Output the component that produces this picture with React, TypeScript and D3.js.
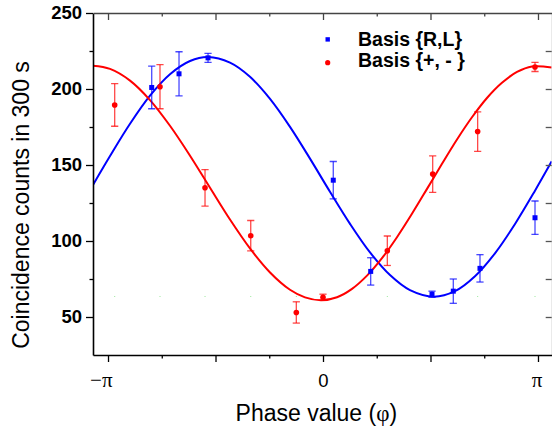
import React, { useRef, useEffect } from "react";
import * as d3 from "d3";

// measured points, basis {R,L}
const phaseRL = [-2.503, -2.104, -1.68, 0.15, 0.697, 1.593, 1.904, 2.294, 3.098];
const countsRL = [201, 210, 220.5, 140, 80, 65, 67, 82, 115.3];
const errorsRL = [14, 14.5, 3, 12.3, 9, 2, 8, 9, 11];

// measured points, basis {+,-}
const phasePM = [-3.044, -2.382, -1.724, -1.056, -0.39, 0, 0.94, 1.603, 2.26, 3.098];
const countsPM = [189.5, 201.5, 135, 103.5, 53, 63, 93.6, 144, 172, 214.5];
const errorsPM = [14, 14.5, 12, 10, 7, 2, 9.7, 12, 13, 3];

// faint background markers
const countsBg = [63.5, 63.5, 63.5, 63.5, 63.5, 63.5, 63.5, 63.5, 63.5, 63.5];

// fitted curves
const fitPhaseRL = [-3.361, -3.112, -2.82, -2.528, -2.236, -1.943, -1.68, -1.359, -1.067, -0.774, -0.482, -0.19, 0.102, 0.395, 0.687, 0.979, 1.271, 1.622, 1.929, 2.221, 2.513, 2.806, 3.098, 3.342];
const fitCountsRL = [136.9, 155.9, 177.1, 195.6, 209.7, 218.4, 221.0, 217.3, 208.0, 193.5, 175.1, 154.2, 132.4, 111.3, 92.5, 77.6, 67.7, 63.4, 67.0, 76.8, 91.9, 111.2, 133.1, 152.4];
const fitPhasePM = [-3.361, -3.112, -2.82, -2.528, -2.236, -1.943, -1.651, -1.359, -1.067, -0.774, -0.482, -0.263, -0.029, 0.205, 0.424, 0.643, 0.862, 1.081, 1.3, 1.52, 1.739, 1.958, 2.177, 2.396, 2.615, 2.835, 3.054, 3.342];
const fitCountsPM = [215.3, 213.2, 205.5, 192.7, 175.8, 156.1, 135.0, 114.1, 95.1, 79.3, 67.9, 62.9, 61.0, 63.0, 68.5, 77.2, 88.7, 102.5, 117.9, 134.3, 150.8, 166.8, 181.4, 194.1, 204.1, 211.2, 214.8, 214.2];

const yMajorTicks = [50, 100, 150, 200, 250];
const yMinorTicks = [75, 125, 175, 225];
const yAllTicks = [50, 75, 100, 125, 150, 175, 200, 225];
const xMajorTicks = [-Math.PI, -Math.PI / 2, 0, Math.PI / 2, Math.PI];
const xMinorTicks = [-3 * Math.PI / 4, -Math.PI / 4, Math.PI / 4, 3 * Math.PI / 4];
const xLabelValues = [-Math.PI, 0, Math.PI];
const xLabelTexts = ["\u2212\u03c0", "0", "\u03c0"];
const legendLabels = ["Basis {R,L}", "Basis {+, - }"];

const BLUE = "#0000ff";
const RED = "#ff0000";
const SANS = "'Liberation Sans', Arial, Helvetica, sans-serif";
const SERIF = "'Liberation Serif', 'DejaVu Serif', serif";

const App = () => {
  const svgRef = useRef<SVGSVGElement>(null);

  useEffect(() => {
    const width = 552;
    const height = 429;
    const left = 93;
    const right = 551.7;
    const top = 13;
    const bottom = 355;

    const svg = d3.select(svgRef.current).attr("width", width).attr("height", height);
    svg.selectAll("*").remove();

    const x = d3.scaleLinear().domain([-3.361, 3.342]).range([left, right]);
    const y = d3.scaleLinear().domain([25, 250]).range([bottom, top]);

    svg
      .append("defs")
      .append("clipPath")
      .attr("id", "plotClip")
      .append("rect")
      .attr("x", left)
      .attr("y", top)
      .attr("width", right - left)
      .attr("height", bottom - top);

    const plot = svg.append("g").attr("clip-path", "url(#plotClip)");

    // faint green markers
    plot
      .selectAll(".bg-dot")
      .data(phasePM)
      .join("rect")
      .attr("class", "bg-dot")
      .attr("x", (d) => x(d) - 0.5)
      .attr("y", (d, i) => y(countsBg[i]) - 0.5)
      .attr("width", 1)
      .attr("height", 1)
      .attr("fill", "#9be89b");

    const line = d3
      .line<number>()
      .curve(d3.curveCatmullRom.alpha(0.5));

    plot
      .append("path")
      .attr(
        "d",
        line.x((d) => x(d)).y((d, i) => y(fitCountsRL[i]))(fitPhaseRL)
      )
      .attr("fill", "none")
      .attr("stroke", BLUE)
      .attr("stroke-width", 2);

    plot
      .append("path")
      .attr(
        "d",
        line.x((d) => x(d)).y((d, i) => y(fitCountsPM[i]))(fitPhasePM)
      )
      .attr("fill", "none")
      .attr("stroke", RED)
      .attr("stroke-width", 2);

    const drawErrors = (
      cls: string,
      phases: number[],
      counts: number[],
      errs: number[],
      color: string
    ) => {
      const eg = plot
        .selectAll("." + cls)
        .data(phases)
        .join("g")
        .attr("class", cls)
        .attr("stroke", color)
        .attr("stroke-opacity", 0.72)
        .attr("stroke-width", 1.3);
      eg.append("line")
        .attr("x1", (d) => x(d))
        .attr("x2", (d) => x(d))
        .attr("y1", (d, i) => y(counts[i] + errs[i]))
        .attr("y2", (d, i) => y(counts[i] - errs[i]));
      eg.append("line")
        .attr("x1", (d) => x(d) - 3.6)
        .attr("x2", (d) => x(d) + 3.6)
        .attr("y1", (d, i) => y(counts[i] + errs[i]))
        .attr("y2", (d, i) => y(counts[i] + errs[i]));
      eg.append("line")
        .attr("x1", (d) => x(d) - 3.6)
        .attr("x2", (d) => x(d) + 3.6)
        .attr("y1", (d, i) => y(counts[i] - errs[i]))
        .attr("y2", (d, i) => y(counts[i] - errs[i]));
    };

    drawErrors("err-rl", phaseRL, countsRL, errorsRL, BLUE);
    drawErrors("err-pm", phasePM, countsPM, errorsPM, RED);

    plot
      .selectAll(".pt-rl")
      .data(phaseRL)
      .join("rect")
      .attr("class", "pt-rl")
      .attr("x", (d) => x(d) - 2.5)
      .attr("y", (d, i) => y(countsRL[i]) - 2.5)
      .attr("width", 5)
      .attr("height", 5)
      .attr("fill", BLUE);

    plot
      .selectAll(".pt-pm")
      .data(phasePM)
      .join("circle")
      .attr("class", "pt-pm")
      .attr("cx", (d) => x(d))
      .attr("cy", (d, i) => y(countsPM[i]))
      .attr("r", 2.8)
      .attr("fill", RED);

    // axes
    const styleAxis = (g: any, color: string, width: number) => {
      g.select(".domain").attr("stroke", color).attr("stroke-width", width);
      g.selectAll(".tick line").attr("stroke", color).attr("stroke-width", 1.3);
    };

    const leftAxis = svg
      .append("g")
      .attr("transform", `translate(${left},0)`)
      .call(d3.axisLeft(y).tickValues(yMajorTicks).tickSize(7).tickSizeOuter(0).tickPadding(4));
    styleAxis(leftAxis, "#000", 1.6);
    leftAxis
      .selectAll("text")
      .attr("font-family", SANS)
      .attr("font-weight", "bold")
      .attr("font-size", 18.5)
      .attr("fill", "#000");

    const leftMinor = svg
      .append("g")
      .attr("transform", `translate(${left},0)`)
      .call(d3.axisLeft(y).tickValues(yMinorTicks).tickSize(3.5).tickSizeOuter(0).tickFormat(() => ""));
    leftMinor.select(".domain").remove();
    styleAxis(leftMinor, "#000", 1.6);

    const rightAxis = svg
      .append("g")
      .attr("transform", `translate(${right},0)`)
      .call(d3.axisRight(y).tickValues(yAllTicks).tickSize(-6).tickSizeOuter(0).tickFormat(() => ""));
    styleAxis(rightAxis, "#555", 1);
    rightAxis.select(".domain").attr("stroke", "#bbb");

    const bottomAxis = svg
      .append("g")
      .attr("transform", `translate(0,${bottom})`)
      .call(d3.axisBottom(x).tickValues(xMajorTicks).tickSize(7).tickSizeOuter(0).tickFormat(() => ""));
    styleAxis(bottomAxis, "#000", 1.6);

    const bottomMinor = svg
      .append("g")
      .attr("transform", `translate(0,${bottom})`)
      .call(d3.axisBottom(x).tickValues(xMinorTicks).tickSize(3.5).tickSizeOuter(0).tickFormat(() => ""));
    bottomMinor.select(".domain").remove();
    styleAxis(bottomMinor, "#000", 1.6);

    const topAxis = svg
      .append("g")
      .attr("transform", `translate(0,${top})`)
      .call(d3.axisTop(x).tickValues(xMajorTicks).tickSize(-7).tickSizeOuter(0).tickFormat(() => ""));
    styleAxis(topAxis, "#444", 1.6);

    const topMinor = svg
      .append("g")
      .attr("transform", `translate(0,${top})`)
      .call(d3.axisTop(x).tickValues(xMinorTicks).tickSize(-3.5).tickSizeOuter(0).tickFormat(() => ""));
    topMinor.select(".domain").remove();
    styleAxis(topMinor, "#444", 1.6);

    // x tick labels
    svg
      .selectAll(".xlabel")
      .data(xLabelValues)
      .join("text")
      .attr("class", "xlabel")
      .attr("x", (d, i) => (i === 0 ? x(d) + 4.5 : i === 2 ? x(d) - 1 : x(d) + 0.5))
      .attr("y", 387)
      .attr("text-anchor", (d, i) => (i === 0 ? "end" : "middle"))
      .attr("font-family", (d, i) => (i === 1 ? SANS : SERIF))
      .attr("font-size", (d, i) => (i === 1 ? 18.5 : 21))
      .attr("fill", "#000")
      .text((d, i) => xLabelTexts[i]);

    // axis titles
    const xt = svg
      .append("text")
      .attr("x", (left + right) / 2 - 6)
      .attr("y", 421)
      .attr("text-anchor", "middle")
      .attr("font-family", SANS)
      .attr("font-size", 23)
      .attr("fill", "#000");
    xt.append("tspan").text("Phase value (");
    xt.append("tspan").attr("font-family", SERIF).text("\u03c6");
    xt.append("tspan").text(")");

    svg
      .append("text")
      .attr("transform", `translate(29,${(top + bottom) / 2 + 21}) rotate(-90)`)
      .attr("text-anchor", "middle")
      .attr("font-family", SANS)
      .attr("font-size", 23)
      .attr("fill", "#000")
      .text("Coincidence counts in 300 s");

    // legend
    const legend = svg.append("g");
    legend
      .append("rect")
      .attr("x", 325.5)
      .attr("y", 37.2)
      .attr("width", 4.4)
      .attr("height", 4.4)
      .attr("fill", BLUE);
    legend
      .append("circle")
      .attr("cx", 327.7)
      .attr("cy", 62.7)
      .attr("r", 2.6)
      .attr("fill", RED);
    legend
      .selectAll(".legend-text")
      .data(legendLabels)
      .join("text")
      .attr("class", "legend-text")
      .attr("x", 358)
      .attr("y", (d, i) => 46 + i * 21)
      .attr("font-family", SANS)
      .attr("font-weight", "bold")
      .attr("font-size", 19.5)
      .attr("fill", "#000")
      .text((d) => d);
  }, []);

  return (
    <div style={{ position: "absolute", left: 0, top: 0 }}>
      <svg ref={svgRef} style={{ display: "block" }}></svg>
    </div>
  );
};

export default App;
